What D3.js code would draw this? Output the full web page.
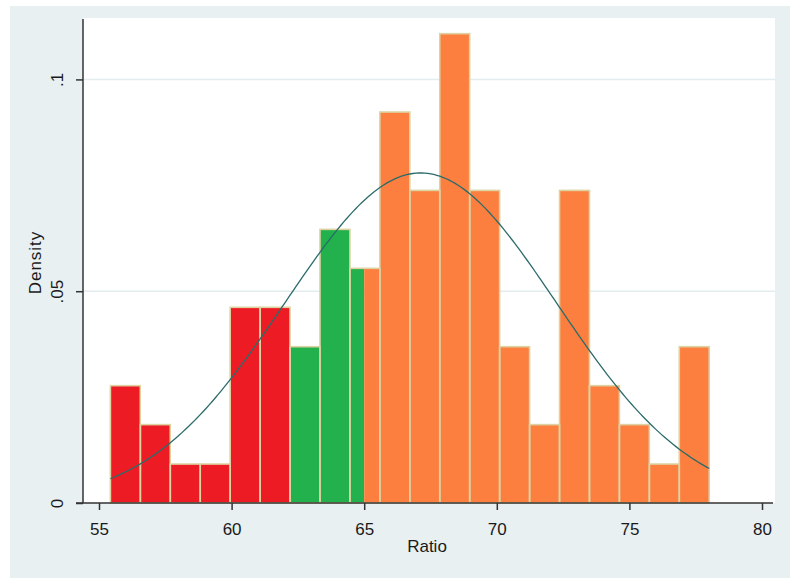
<!DOCTYPE html>
<html>
<head>
<meta charset="utf-8">
<script src="https://cdn.jsdelivr.net/npm/d3@7"></script>
<style>
  body { margin: 0; background: #ffffff; }
  text { font-family: "Liberation Sans", Arial, sans-serif; fill: #1a1a1a; }
</style>
</head>
<body>
<svg id="chart" width="790" height="578"></svg>
<script>
// Histogram of Ratio: 20 equal-width bins starting at the sample minimum
const binStart = 55.43;
const binWidth = 1.129;
const densities = [
  0.0277, 0.0185, 0.0092, 0.0092, 0.0462, 0.0462,
  0.0369, 0.0646, 0.0554, 0.0923, 0.0738, 0.1108,
  0.0738, 0.0369, 0.0185, 0.0738, 0.0277, 0.0185,
  0.0092, 0.0369
];

// Ratio values where the fill group changes (low | mid | high)
const groupBreaks = [62.2, 65];
const groupNames = ["low", "mid", "high"];

// Fitted normal density overlay
const normalMean = 67.13;
const normalSd = 5.12;

// Axis ticks
const xTicks = [55, 60, 65, 70, 75, 80];
const yTicks = [0, 0.05, 0.1];
const yTickLabels = ["0", ".05", ".1"];
const xTitle = "Ratio";
const yTitle = "Density";

// ---- layout & style ----
const W = 790, H = 578;
const frame = { left: 10, top: 6, right: 790, bottom: 578 };
const plot = { left: 83, top: 18, right: 775, bottom: 503 };
const groupColor = { low: "#ed1c24", mid: "#22b14c", high: "#fd7f3f" };
const barOutline = "#dcd2a2";
const fontSize = 17;

const svg = d3.select("#chart");

// outer graph region and white plot region
svg.append("rect").attr("x", frame.left).attr("y", frame.top)
  .attr("width", frame.right - frame.left).attr("height", frame.bottom - frame.top)
  .attr("fill", "#e9f0f2");
svg.append("rect").attr("x", plot.left).attr("y", plot.top)
  .attr("width", plot.right - plot.left).attr("height", plot.bottom - plot.top)
  .attr("fill", "#ffffff");

const x = d3.scaleLinear().domain([55, 80]).range([99, 762]);
const y = d3.scaleLinear().domain([0, 0.1145]).range([plot.bottom, plot.top]);

// horizontal grid lines
svg.append("g").selectAll("line")
  .data(yTicks.filter(d => d > 0))
  .join("line")
  .attr("x1", plot.left).attr("x2", plot.right)
  .attr("y1", d => y(d)).attr("y2", d => y(d))
  .attr("stroke", "#e3ecef").attr("stroke-width", 1.5);

// bins
const bins = densities.map((d, i) => ({
  x0: binStart + i * binWidth,
  x1: binStart + (i + 1) * binWidth,
  density: d
}));

// group ranges along the Ratio axis
const groupRanges = groupNames.map((name, i) => ({
  name,
  from: i === 0 ? -Infinity : groupBreaks[i - 1],
  to: i === groupBreaks.length ? Infinity : groupBreaks[i]
}));

// fill pieces: a bin straddling a break is split between two colours
const pieces = [];
bins.forEach(b => {
  groupRanges.forEach(g => {
    const a = Math.max(b.x0, g.from), c = Math.min(b.x1, g.to);
    if (c - a > 1e-6) pieces.push({ x0: a, x1: c, density: b.density, group: g.name });
  });
});

svg.append("g").selectAll("rect")
  .data(pieces)
  .join("rect")
  .attr("x", d => x(d.x0))
  .attr("y", d => y(d.density))
  .attr("width", d => x(d.x1) - x(d.x0))
  .attr("height", d => y(0) - y(d.density))
  .attr("fill", d => groupColor[d.group]);

// bin outlines
svg.append("g").selectAll("rect")
  .data(bins)
  .join("rect")
  .attr("x", d => x(d.x0))
  .attr("y", d => y(d.density))
  .attr("width", d => x(d.x1) - x(d.x0))
  .attr("height", d => y(0) - y(d.density))
  .attr("fill", "none")
  .attr("stroke", barOutline)
  .attr("stroke-width", 1.6);

// normal density curve over the data range
const xMin = bins[0].x0, xMax = bins[bins.length - 1].x1;
const normalPdf = v => Math.exp(-0.5 * ((v - normalMean) / normalSd) ** 2) / (normalSd * Math.sqrt(2 * Math.PI));
const curvePts = d3.range(0, 201).map(k => {
  const v = xMin + (xMax - xMin) * k / 200;
  return [v, normalPdf(v)];
});
svg.append("path")
  .datum(curvePts)
  .attr("d", d3.line().x(d => x(d[0])).y(d => y(d[1])))
  .attr("fill", "none")
  .attr("stroke", "#2b6b6a")
  .attr("stroke-width", 1.3);

// x axis
const xAxis = svg.append("g")
  .attr("transform", `translate(0,${plot.bottom})`)
  .call(d3.axisBottom(x).tickValues(xTicks).tickSize(7).tickSizeOuter(0).tickFormat(d3.format("d")));
xAxis.select(".domain").remove();
xAxis.selectAll(".tick line").attr("stroke", "#333").attr("stroke-width", 1.5);
xAxis.selectAll(".tick text")
  .attr("y", 32).attr("dy", 0)
  .style("font-size", fontSize + "px")
  .style("font-family", "'Liberation Sans', Arial, sans-serif")
  .attr("fill", "#1a1a1a");
svg.append("line")
  .attr("x1", plot.left - 7).attr("x2", plot.right - 2)
  .attr("y1", plot.bottom).attr("y2", plot.bottom)
  .attr("stroke", "#333").attr("stroke-width", 1.5);

// y axis
const yAxis = svg.append("g")
  .attr("transform", `translate(${plot.left},0)`)
  .call(d3.axisLeft(y).tickValues(yTicks).tickSize(7).tickSizeOuter(0)
    .tickFormat((d, i) => yTickLabels[i]));
yAxis.select(".domain").remove();
yAxis.selectAll(".tick line").attr("stroke", "#333").attr("stroke-width", 1.5);
yAxis.selectAll(".tick text")
  .attr("x", null).attr("dy", null)
  .attr("text-anchor", "middle")
  .attr("transform", "translate(-20,0) rotate(-90)")
  .style("font-size", fontSize + "px")
  .style("font-family", "'Liberation Sans', Arial, sans-serif")
  .attr("fill", "#1a1a1a");
svg.append("line")
  .attr("x1", plot.left).attr("x2", plot.left)
  .attr("y1", plot.top + 1).attr("y2", plot.bottom)
  .attr("stroke", "#333").attr("stroke-width", 1.5);

// axis titles
svg.append("text")
  .attr("x", (plot.left + plot.right) / 2 - 2)
  .attr("y", 552)
  .attr("text-anchor", "middle")
  .style("font-size", fontSize + "px")
  .text(xTitle);

svg.append("text")
  .attr("transform", `translate(41,${(plot.top + plot.bottom) / 2 + 2}) rotate(-90)`)
  .attr("text-anchor", "middle")
  .attr("letter-spacing", 1)
  .style("font-size", fontSize + "px")
  .text(yTitle);
</script>
</body>
</html>
